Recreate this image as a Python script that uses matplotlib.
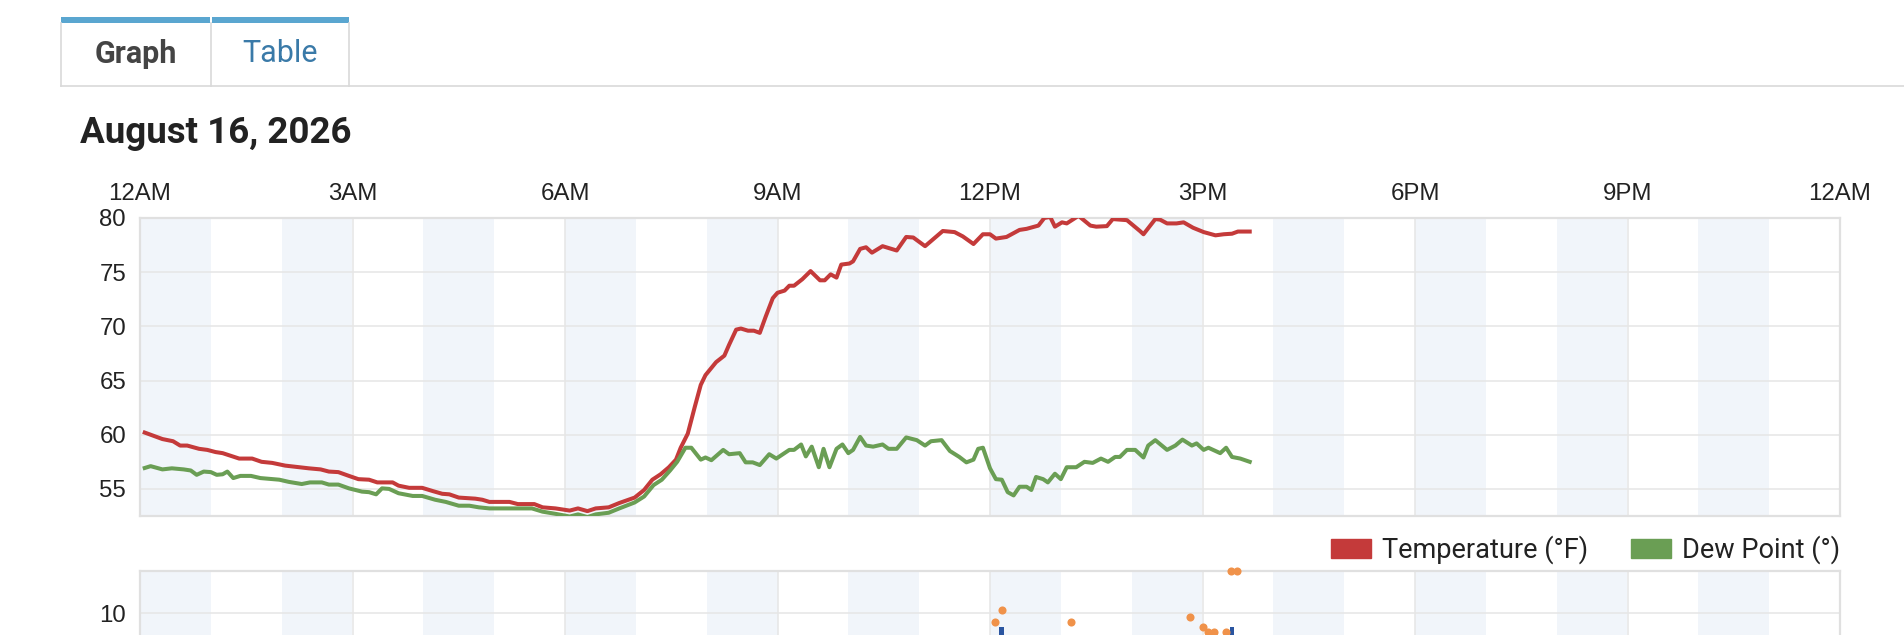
import matplotlib
matplotlib.use("Agg")
import matplotlib.pyplot as plt
from matplotlib.patches import Patch, Rectangle
from matplotlib.lines import Line2D

# minutes after midnight, August 16, 2026
temp_min = [4, 19, 28, 34, 40, 50, 57, 64, 70, 84, 95, 103, 112, 123, 135, 143, 153, 160, 168, 177,
            185, 194, 201, 214, 219, 228, 239, 248, 256, 262, 270, 284, 290, 296, 313, 320, 334, 341,
            352, 364, 371, 379, 386, 397, 406, 419, 427, 434, 441, 448, 454, 458, 464, 470, 475, 479,
            488, 495, 499, 505, 509, 515, 520, 525, 530, 536, 540, 546, 550, 554, 561, 568, 576, 580,
            585, 590, 594, 601, 604, 610, 615, 620, 629, 641, 649, 655, 665, 680, 690, 697, 706, 714,
            720, 725, 734, 745, 751, 761, 766, 771, 775, 781, 785, 795, 805, 810, 819, 824, 836, 847,
            850, 860, 864, 870, 878, 884, 892, 901, 911, 918, 925, 930, 940]
temp_f = [60.2, 59.6, 59.4, 59.0, 59.0, 58.7, 58.6, 58.4, 58.3, 57.8, 57.8, 57.5, 57.4, 57.15, 57.0,
          56.9, 56.8, 56.6, 56.55, 56.2, 55.9, 55.85, 55.6, 55.6, 55.3, 55.1, 55.1, 54.8, 54.55, 54.5,
          54.2, 54.1, 54.0, 53.8, 53.8, 53.6, 53.6, 53.3, 53.2, 53.0, 53.2, 52.95, 53.2, 53.3, 53.7,
          54.2, 54.9, 55.85, 56.35, 57.0, 57.7, 58.8, 60.1, 62.6, 64.6, 65.5, 66.7, 67.3, 68.3, 69.7,
          69.8, 69.6, 69.6, 69.4, 70.9, 72.6, 73.1, 73.3, 73.75, 73.75, 74.35, 75.1, 74.25, 74.25,
          74.8, 74.5, 75.7, 75.8, 76.0, 77.15, 77.3, 76.8, 77.4, 77.0, 78.25, 78.2, 77.4, 78.8, 78.7,
          78.3, 77.6, 78.5, 78.5, 78.1, 78.25, 78.9, 79.0, 79.3, 80.0, 80.1, 79.2, 79.6, 79.5, 80.2,
          79.3, 79.2, 79.25, 79.9, 79.8, 78.8, 78.5, 79.9, 79.85, 79.5, 79.5, 79.6, 79.1, 78.7, 78.4,
          78.5, 78.55, 78.75, 78.75]

dew_min = [4, 9, 19, 27, 37, 43, 48, 54, 60, 65, 70, 74, 79, 85, 94, 102, 118, 126, 137, 144, 154,
           160, 168, 177, 188, 194, 200, 205, 211, 219, 231, 239, 250, 259, 270, 279, 287, 296, 332,
           341, 352, 364, 371, 379, 386, 397, 406, 419, 427, 435, 442, 449, 455, 462, 467, 475, 479,
           484, 494, 499, 508, 513, 519, 525, 533, 539, 550, 554, 560, 564, 569, 575, 579, 584, 590,
           595, 600, 604, 610, 615, 621, 629, 634, 641, 649, 658, 665, 670, 679, 686, 694, 700, 706,
           710, 714, 720, 725, 730, 735, 740, 745, 751, 755, 759, 765, 769, 775, 780, 785, 793, 800,
           807, 814, 820, 826, 830, 836, 843, 850, 854, 860, 870, 877, 883, 891, 895, 901, 905, 915,
           920, 925, 932, 940]
dew_f = [56.93, 57.1, 56.8, 56.9, 56.8, 56.7, 56.3, 56.6, 56.55, 56.3, 56.35, 56.6, 56.0, 56.2, 56.2,
         56.0, 55.85, 55.65, 55.45, 55.6, 55.6, 55.4, 55.4, 55.05, 54.75, 54.7, 54.5, 55.05, 55.0,
         54.6, 54.35, 54.35, 54.0, 53.8, 53.45, 53.45, 53.3, 53.2, 53.2, 52.9, 52.7, 52.45, 52.65,
         52.4, 52.65, 52.8, 53.2, 53.75, 54.3, 55.35, 55.85, 56.7, 57.5, 58.8, 58.8, 57.7, 57.9,
         57.65, 58.6, 58.2, 58.3, 57.45, 57.45, 57.2, 58.2, 57.8, 58.6, 58.6, 59.1, 58.0, 58.9, 57.0,
         58.7, 57.0, 58.7, 59.1, 58.3, 58.6, 59.8, 59.0, 58.9, 59.1, 58.7, 58.7, 59.75, 59.5, 59.0,
         59.4, 59.5, 58.5, 57.95, 57.45, 57.7, 58.7, 58.8, 56.9, 55.9, 55.85, 54.7, 54.4, 55.2, 55.2,
         54.9, 56.1, 55.9, 55.6, 56.4, 55.9, 57.0, 57.0, 57.5, 57.4, 57.8, 57.5, 57.95, 57.95, 58.6,
         58.6, 57.9, 59.0, 59.5, 58.6, 59.0, 59.55, 59.0, 59.2, 58.6, 58.8, 58.3, 58.8, 57.95, 57.8,
         57.5]

gust_min = [724, 730, 789, 889, 900, 905, 910, 920, 924, 929]
gust_mph = [8.9, 10.4, 8.9, 9.5, 8.3, 7.7, 7.7, 7.7, 15.0, 15.0]
wind_min = [730, 925]
wind_mph = [8.3, 8.3]

hour_ticks = list(range(0, 25, 3))
hour_labels = ["12AM", "3AM", "6AM", "9AM", "12PM", "3PM", "6PM", "9PM", "12AM"]
temp_ticks = [55, 60, 65, 70, 75, 80]
wind_ticks = [10]

W, H = 1904, 635
RED = "#c43a3a"
GREEN = "#6a9e54"
BAND = "#f1f5fa"
GRID = "#e6e6e6"
TICK_FONT = ["Liberation Sans", "DejaVu Sans"]
UI_FONT = ["Roboto", "DejaVu Sans"]


def fx(px):
    return px / W


def fy(py):
    return 1 - py / H


def style_axes(ax):
    ax.set_facecolor("white")
    ax.set_xlim(0, 24)
    for h in range(0, 24, 2):
        ax.axvspan(h, h + 1, color=BAND, lw=0, zorder=0)
    ax.set_xticks(hour_ticks)
    ax.grid(True, color=GRID, lw=1.1, zorder=1)
    ax.set_axisbelow(True)
    for spine in ax.spines.values():
        spine.set_color("#e0e0e0")
        spine.set_linewidth(1.6)
    ax.tick_params(length=0, labelsize=17.3, labelcolor="#222222")
    for lab in ax.get_yticklabels() + ax.get_xticklabels():
        lab.set_family(TICK_FONT)


fig = plt.figure(figsize=(W / 100, H / 100), dpi=100)

# tabs
fig.add_artist(Rectangle((fx(61), fy(23)), fx(210) - fx(61), 6 / H, color="#5aa6d0", lw=0))
fig.add_artist(Rectangle((fx(212), fy(23)), fx(349) - fx(212), 6 / H, color="#5aa6d0", lw=0))
for x in (61, 211, 349):
    fig.add_artist(Line2D([fx(x), fx(x)], [fy(23), fy(86)], color="#d9d9d9", lw=1.2))
fig.add_artist(Line2D([fx(61), 1], [fy(86), fy(86)], color="#d9d9d9", lw=1.2))
fig.text(fx(136), fy(54), "Graph", ha="center", va="center", fontsize=22, weight="bold",
         color="#444444", family=UI_FONT)
fig.text(fx(280), fy(54), "Table", ha="center", va="center", fontsize=22,
         color="#3a7aa8", family=UI_FONT)
fig.text(fx(80), fy(143), "August 16, 2026", ha="left", va="baseline", fontsize=26.5,
         weight="bold", color="#222222", family=UI_FONT)

# temperature / dew point panel
ax1 = fig.add_axes([fx(140), fy(516), fx(1840) - fx(140), 298 / H])
ax1.plot([m / 60 for m in temp_min], temp_f, color=RED, lw=2.9, zorder=3,
         solid_joinstyle="round")
ax1.plot([m / 60 for m in dew_min], dew_f, color=GREEN, lw=2.9, zorder=3,
         solid_joinstyle="round")
ax1.set_ylim(52.5, 80)
ax1.set_yticks(temp_ticks)
ax1.xaxis.tick_top()
ax1.set_xticklabels(hour_labels)
style_axes(ax1)
ax1.tick_params(axis="x", pad=9.5)
ax1.tick_params(axis="y", pad=10)

fig.legend(
    handles=[Patch(color=RED, label="Temperature (°F)"), Patch(color=GREEN, label="Dew Point (°)")],
    loc="center right",
    bbox_to_anchor=(fx(1840), fy(550)),
    ncol=2,
    frameon=False,
    borderpad=0,
    borderaxespad=0,
    handlelength=1.48,
    handleheight=0.69,
    handletextpad=0.41,
    columnspacing=1.56,
    prop={"family": UI_FONT, "size": 19.5},
    labelcolor="#222222",
)

# wind panel, cut off by the bottom of the page
ax2 = fig.add_axes([fx(140), fy(697), fx(1840) - fx(140), 126 / H])
ax2.bar([m / 60 for m in wind_min], wind_mph, width=0.07, color="#2a55a0", zorder=3)
ax2.scatter([m / 60 for m in gust_min], gust_mph, s=34, color="#f0924a", zorder=4,
            clip_on=False, lw=0)
ax2.set_ylim(0, 15)
ax2.set_yticks(wind_ticks)
ax2.set_xticklabels([])
style_axes(ax2)
ax2.tick_params(axis="y", pad=10)

fig.savefig("out.png", dpi=100, facecolor="white")
